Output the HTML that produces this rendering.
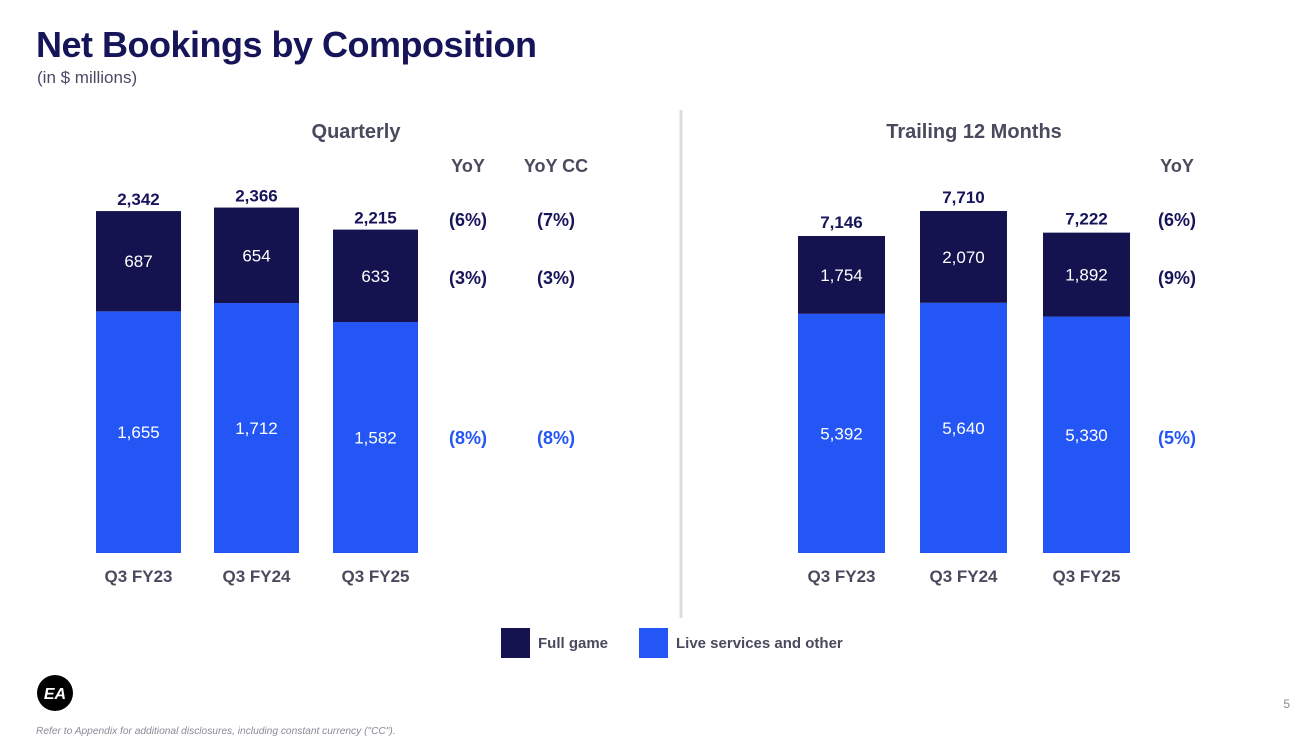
<!DOCTYPE html>
<html><head><meta charset="utf-8"><style>
body{margin:0;background:#fff;}
svg{display:block;font-family:"Liberation Sans",sans-serif;}
</style></head><body>
<svg width="1310" height="744" viewBox="0 0 1310 744">
<text x="36" y="57" font-size="36" font-weight="bold" fill="#16155a" letter-spacing="-0.5">Net Bookings by Composition</text>
<text x="37" y="83" font-size="17" fill="#4a4a66">(in $ millions)</text>
<line x1="681" y1="110" x2="681" y2="618" stroke="#dcdce2" stroke-width="3"/>
<text x="356" y="138" font-size="20" font-weight="bold" fill="#4a4a5e" text-anchor="middle">Quarterly</text>
<text x="974" y="138" font-size="20" font-weight="bold" fill="#4a4a5e" text-anchor="middle">Trailing 12 Months</text>
<g id="left"></g>
<g id="right"></g>
<g>
<rect x="501" y="628" width="29" height="30" fill="#14134f"/>
<text x="538" y="648" font-size="15" font-weight="bold" fill="#4a4a5e">Full game</text>
<rect x="639" y="628" width="29" height="30" fill="#2356f5"/>
<text x="676" y="648" font-size="15" font-weight="bold" fill="#4a4a5e">Live services and other</text>
</g>
<circle cx="55" cy="693" r="18" fill="#000"/>
<text x="55" y="699" font-size="16" font-weight="bold" font-style="italic" fill="#fff" text-anchor="middle">EA</text>
<text x="36" y="734" font-size="10.2" font-style="italic" fill="#8a8a9a">Refer to Appendix for additional disclosures, including constant currency ("CC").</text>
<text x="1290" y="708" font-size="12" fill="#8a8a9a" text-anchor="end">5</text>
</svg>
<script>
const categories=["Q3 FY23","Q3 FY24","Q3 FY25"];
const qFull=[687,654,633];
const qLive=[1655,1712,1582];
const tFull=[1754,2070,1892];
const tLive=[5392,5640,5330];
const qYoY=["(6%)","(3%)","(8%)"];
const qYoYCC=["(7%)","(3%)","(8%)"];
const tYoY=["(6%)","(9%)","(5%)"];
const NS="http://www.w3.org/2000/svg";
function mk(p,tag,a,txt){const e=document.createElementNS(NS,tag);for(const k in a)e.setAttribute(k,a[k]);if(txt!==undefined)e.textContent=txt;p.appendChild(e);return e;}
const fmt=v=>v.toLocaleString("en-US");
function chart(g,xs,w,scale,full,live,totalDy){
  const base=553;
  const y=v=>base-v*scale;
  categories.forEach((c,i)=>{
    const tot=full[i]+live[i];
    const r1=mk(g,"rect",{x:xs[i],y:y(live[i]),width:w,height:base-y(live[i]),fill:"#2356f5"});
    
    
    const r2=mk(g,"rect",{x:xs[i],y:y(tot),width:w,height:y(live[i])-y(tot),fill:"#14134f"});
    
    
    const cx=xs[i]+w/2;
    const t1=mk(g,"text",{x:cx,y:(y(live[i])+base)/2+6,"font-size":17,fill:"#fff","text-anchor":"middle"},fmt(live[i]));
    
    
    const t2=mk(g,"text",{x:cx,y:(y(tot)+y(live[i]))/2+6,"font-size":17,fill:"#fff","text-anchor":"middle"},fmt(full[i]));
    
    
    const t3=mk(g,"text",{x:cx,y:y(tot)-totalDy,"font-size":17,"font-weight":"bold",fill:"#16155a","text-anchor":"middle"},fmt(tot));
    
    
    const t4=mk(g,"text",{x:cx,y:582,"font-size":17,"font-weight":"bold",fill:"#4a4a5e","text-anchor":"middle"},c);
    
    
  });
}
const L=document.getElementById("left"),R=document.getElementById("right");
chart(L,[96,214,333],85,0.146,qFull,qLive,6);
chart(R,[798,920,1043],87,0.04436,tFull,tLive,8);
const rowsY=[226,284,444];
const colors=["#16155a","#16155a","#2356f5"];
function col(g,x,head,vals,nm){
  const h=mk(g,"text",{x:x,y:172,"font-size":18,"font-weight":"bold",fill:"#4a4a5e","text-anchor":"middle"},head);
  
  
  vals.forEach((v,i)=>{
    const t=mk(g,"text",{x:x,y:rowsY[i],"font-size":18,"font-weight":"bold",fill:colors[i],"text-anchor":"middle"},v);
    
    
  });
}
col(L,468,"YoY",qYoY,"quarterly-yoy");
col(L,556,"YoY CC",qYoYCC,"quarterly-yoy-cc");
col(R,1177,"YoY",tYoY,"ttm-yoy");
</script>
</body></html>
